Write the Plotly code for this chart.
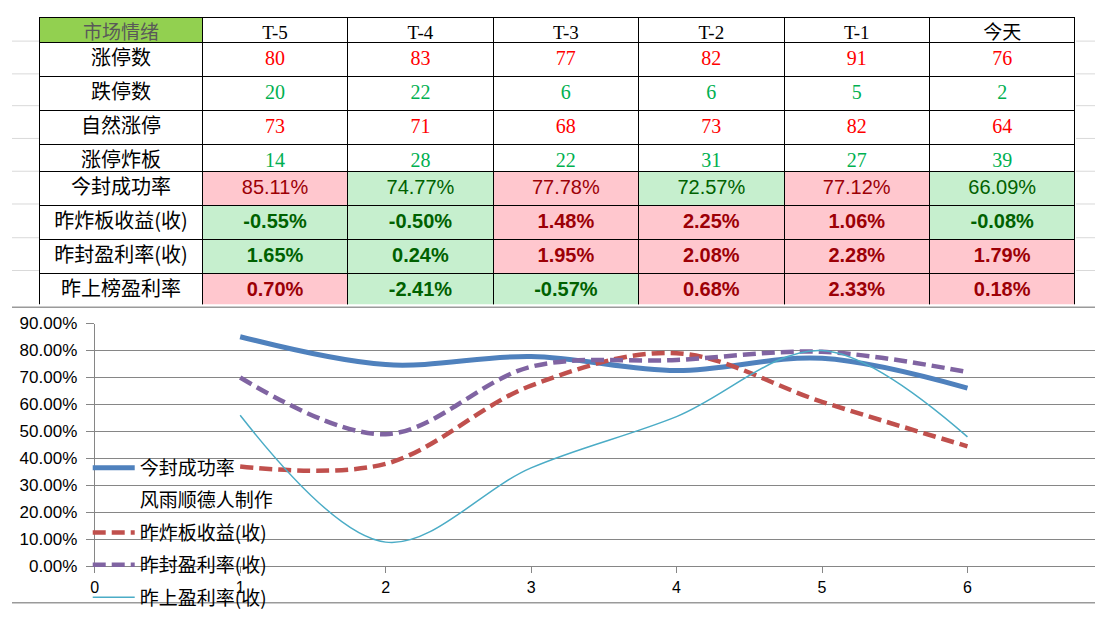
import plotly.graph_objects as go

# ---------------- data ----------------
days = ["T-5", "T-4", "T-3", "T-2", "T-1", "今天"]
count_labels = ["涨停数", "跌停数", "自然涨停", "涨停炸板"]
pct_labels = ["今封成功率", "昨炸板收益(收)", "昨封盈利率(收)", "昨上榜盈利率"]
limit_up = [80, 83, 77, 82, 91, 76]
limit_down = [20, 22, 6, 6, 5, 2]
natural_up = [73, 71, 68, 73, 82, 64]
broken = [14, 28, 22, 31, 27, 39]
seal_rate = [85.11, 74.77, 77.78, 72.57, 77.12, 66.09]
broken_ret = [-0.55, -0.50, 1.48, 2.25, 1.06, -0.08]
seal_ret = [1.65, 0.24, 1.95, 2.08, 2.28, 1.79]
list_ret = [0.70, -2.41, -0.57, 0.68, 2.33, 0.18]
# cell tone: "r" = red (pink), "g" = green
seal_rate_tone = ["r", "g", "r", "g", "r", "g"]
broken_ret_tone = ["g", "g", "r", "r", "r", "g"]
seal_ret_tone = ["g", "g", "r", "r", "r", "r"]
list_ret_tone = ["r", "g", "g", "r", "r", "r"]

# chart series (percent)
x_pos = [1, 2, 3, 4, 5, 6]
chart_seal = [85.11, 74.77, 77.78, 72.57, 77.12, 66.09]
chart_broken = [37.0, 38.0, 67.0, 79.0, 61.0, 44.5]
chart_sealret = [70.0, 49.0, 74.0, 76.5, 79.5, 72.0]
chart_list = [56.0, 9.0, 36.5, 55.5, 80.0, 48.0]
legend_names = ["今封成功率", "风雨顺德人制作", "昨炸板收益(收)", "昨封盈利率(收)", "昨上盈利率(收)"]

# ---------------- styles ----------------
# page has an 8px body margin; figure fills the rest of the 1103x625 window
OFF = 8
W, H = 1103 - 2 * OFF, 625 - 2 * OFF
CJK = "Noto Sans CJK SC"
SERIF = "Liberation Serif, Noto Sans CJK SC"
SANS = "Liberation Sans, Arial, sans-serif"
RED_TXT, GREEN_TXT = "#FF0000", "#00B050"
PINK, LGREEN = "#FFC7CE", "#C6EFCE"
DRED, DGREEN = "#9C0006", "#006100"


def fx(px):  # page x pixel -> paper fraction
    return (px - OFF) / W


def fy(py):  # page y pixel -> paper fraction
    return 1 - (py - OFF) / H


fig = go.Figure()

# ---- table part 1 : header + count rows ----
count_rows = [limit_up, limit_down, natural_up, broken]
count_colors = [RED_TXT, GREEN_TXT, RED_TXT, GREEN_TXT]
t1_vals = [count_labels] + [[str(r[j]) for r in count_rows] for j in range(len(days))]
t1_fcol = [["black"] * 4] + [count_colors for _ in days]
fig.add_trace(go.Table(
    domain=dict(x=[fx(36), fx(1075)], y=[fy(170), 1]),
    columnwidth=[163] + [146] * 6,
    header=dict(
        values=["市场情绪"] + days,
        fill_color=["#92D050"] + ["white"] * 6,
        font=dict(family=[CJK] + [SERIF] * 5 + [CJK], size=19,
                  color=["#595959"] + ["black"] * 6),
        line=dict(color="black", width=1),
        align="center", height=25,
    ),
    cells=dict(
        values=t1_vals,
        fill_color="white",
        font=dict(family=[CJK] + [SERIF] * 6, size=20, color=t1_fcol),
        line=dict(color="black", width=1),
        align="center", height=34,
    ),
))

# ---- table part 2 : percentage rows (header = first pct row) ----
pct_rows = [seal_rate, broken_ret, seal_ret, list_ret]
pct_tones = [seal_rate_tone, broken_ret_tone, seal_ret_tone, list_ret_tone]

h_vals = [pct_labels[0]] + [f"{v:.2f}%" for v in seal_rate]
h_fill = ["white"] + [PINK if t == "r" else LGREEN for t in seal_rate_tone]
h_fcol = ["black"] + [DRED if t == "r" else DGREEN for t in seal_rate_tone]
t2_vals = [pct_labels[1:]]
t2_fill = [["white"] * 3]
t2_fcol = [["black"] * 3]
for j in range(len(days)):
    t2_vals.append([f"{r[j]:.2f}%" for r in pct_rows[1:]])
    t2_fill.append([PINK if t[j] == "r" else LGREEN for t in pct_tones[1:]])
    t2_fcol.append([DRED if t[j] == "r" else DGREEN for t in pct_tones[1:]])

fig.add_trace(go.Table(
    domain=dict(x=[fx(36), fx(1075)], y=[fy(307), fy(168)]),
    columnwidth=[163] + [146] * 6,
    header=dict(
        values=h_vals, fill_color=h_fill,
        font=dict(family=[CJK] + [SANS] * 6, size=20, color=h_fcol),
        line=dict(color="black", width=1),
        align="center", height=34,
    ),
    cells=dict(
        values=t2_vals, fill_color=t2_fill,
        font=dict(family=[CJK] + [SANS] * 6, size=20, color=t2_fcol,
                  weight=["normal"] + ["bold"] * 6),
        line=dict(color="black", width=1),
        align="center", height=34,
    ),
))

# ---- chart ----
line_specs = [
    (chart_seal, "#4F81BD", 5, "solid"),
    (None, "rgba(0,0,0,0)", 0, "solid"),
    (chart_broken, "#C0504D", 4.5, "13px,6px"),
    (chart_sealret, "#8064A2", 4.5, "13px,6px"),
    (chart_list, "#4BACC6", 1.5, "solid"),
]
for i, (ys, col, w, dash) in enumerate(line_specs):
    if ys is None:
        xs, yv = [None], [None]
    else:
        xs, yv = x_pos, [v / 100 for v in ys]
    fig.add_trace(go.Scatter(
        x=xs, y=yv, name=legend_names[i], mode="lines",
        line=dict(color=col, width=w, dash=dash, shape="spline", smoothing=1),
        legendgroup=f"g{i}", hoverinfo="skip",
    ))

# light spreadsheet grid lines outside the table
row_edges = [33, 67, 100, 134, 168, 202, 237, 271]
shapes = []
for yb in row_edges:
    for xa, xb in [(0, fx(35)), (fx(1076), 1)]:
        shapes.append(dict(type="line", xref="paper", yref="paper", x0=xa, x1=xb,
                           y0=fy(yb), y1=fy(yb), line=dict(color="#D9D9D9", width=1)))
shapes.append(dict(type="line", xref="paper", yref="paper", x0=0, x1=1,
                   y0=fy(309), y1=fy(309), line=dict(color="#9A9A9A", width=1.5)))
shapes.append(dict(type="line", xref="paper", yref="paper", x0=0, x1=1,
                   y0=0.002, y1=0.002, line=dict(color="#9A9A9A", width=1.5)))

fig.update_layout(
    width=W, height=H,
    margin=dict(l=0, r=0, t=0, b=0),
    paper_bgcolor="white", plot_bgcolor="white",
    font=dict(family=SANS, size=16, color="black"),
    xaxis=dict(
        domain=[fx(91), 1], range=[0, (1095 - 91) / 146],
        tickvals=[0, 1, 2, 3, 4, 5, 6], showgrid=False, zeroline=False,
        showline=True, linecolor="#868686", linewidth=1,
        ticks="outside", ticklen=6, tickcolor="#868686",
        tickfont=dict(family=SANS, size=16),
    ),
    yaxis=dict(
        domain=[fy(578), fy(326)], range=[0, 0.9],
        dtick=0.1, tickformat=".2%", showgrid=True, gridcolor="#868686",
        gridwidth=1, zeroline=False, showline=True, linecolor="#868686",
        ticks="outside", ticklen=8, tickcolor="#868686",
        ticklabelstandoff=5,
        tickfont=dict(family=SANS, size=17),
    ),
    showlegend=True,
    legend=dict(
        x=fx(84), y=fy(456), xanchor="left", yanchor="top",
        bgcolor="rgba(0,0,0,0)", borderwidth=0,
        font=dict(family=CJK, size=19, color="black"),
        traceorder="grouped", tracegroupgap=4.7, itemwidth=42,
    ),
    shapes=shapes,
)

fig.write_html("out.html")
